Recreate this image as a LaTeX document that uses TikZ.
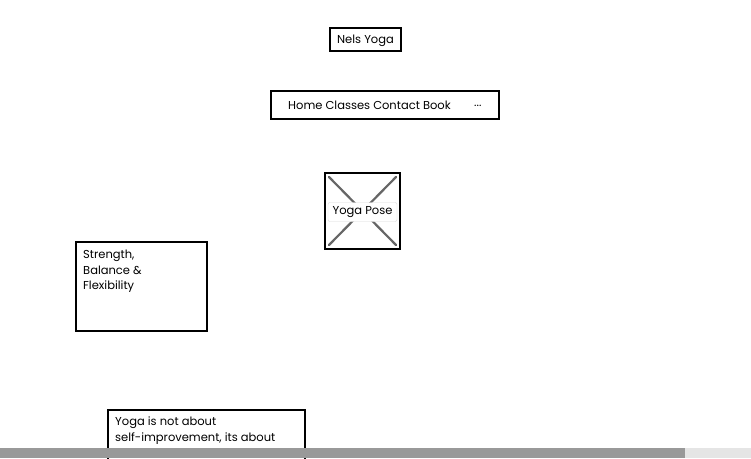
\documentclass[tikz,border=0pt]{standalone}
\usepackage{fontspec}
\setmainfont{Poppins}
\begin{document}
\begin{tikzpicture}[x=1pt,y=-1pt,
  box/.style={draw=black,line width=1.8pt,fill=white,inner sep=0pt},
  txt/.style={font=\fontsize{11.5}{14}\selectfont,inner sep=0pt,anchor=west},
  ltxt/.style={font=\fontsize{11.5}{15.8}\selectfont,inner sep=0pt,anchor=north west,align=left}]
\useasboundingbox (0,0) rectangle (751,458);
\clip (0,0) rectangle (751,458);
% title
\draw[box] (330,28) rectangle (401,51);
\node[txt,anchor=center] (title) at (365.5,40.5) {Nels Yoga};
% nav
\draw[box] (271,91) rectangle (499,119);
\node[txt] (nav) at (288,105.5) {Home Classes Contact Book};
\node[txt] (dots) at (474,105.5) {...};
% image placeholder
\draw[box] (325,173) rectangle (400,249);
\draw[line width=2.2pt,color=black!60,line cap=round] (329,177) -- (396,245);
\draw[line width=2.2pt,color=black!60,line cap=round] (396,177) -- (329,245);
\node[draw=black!15,fill=white,rounded corners=2pt,minimum width=69pt,minimum height=19pt,inner sep=0pt,font=\fontsize{11.5}{14}\selectfont] (img) at (362.5,212) {Yoga Pose};
% box 3
\draw[box] (76,242) rectangle (207,331);
\node[ltxt] (strength) at (83,249.5) {Strength,\\Balance \&\\Flexibility};
% box 4
\draw[box] (108,410) rectangle (305,470);
\node[ltxt] (quote) at (115,416.5) {Yoga is not about\\self-improvement, its about};
% scrollbar
\fill[color=black!40] (0,448) rectangle (685,458);
\fill[color=black!10] (685,448) rectangle (751,458);
\end{tikzpicture}
\end{document}
